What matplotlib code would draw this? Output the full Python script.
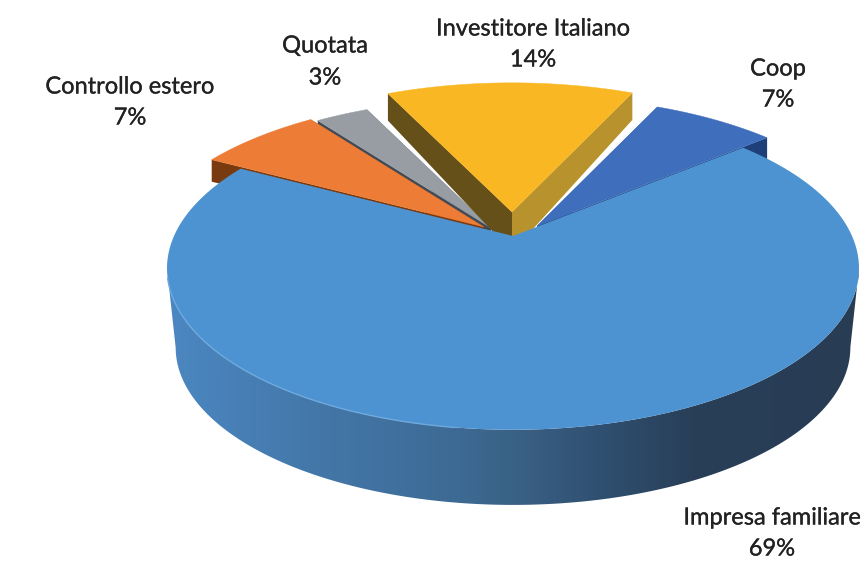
import numpy as np
import matplotlib
matplotlib.use("Agg")
import matplotlib.pyplot as plt
from matplotlib.colors import LinearSegmentedColormap
from matplotlib.patches import Polygon
import matplotlib.patheffects as pe

# Quote per tipo di proprieta, in senso antiorario a partire da Coop
names = ["Coop", "Investitore Italiano", "Quotata", "Controllo estero", "Impresa familiare"]
values = [7, 14, 3, 7, 69]

start_angle = 40
top_colors = ["#3f6fbc", "#f9b823", "#989ca3", "#ed7d36", "#4d93d1"]
side_start = ["#1f3f78", "#b8922c", "#3f4a56", "#6e3510", "#2a4560"]
side_end = ["#2c4f8c", "#66501a", "#3f4a56", "#7a3a10", "#4a86c0"]

# apice e spessore di ogni fetta staccata (al bordo esterno e all'apice)
apex = [(537, 226), (512, 212), (491, 228), (484, 227), (513, 236)]
depth = [21, 27, 20, 22, 80]
depth_apex = [21, 40, 20, 22, 80]

# posizione delle etichette: centro x, y nome, y percentuale
label_x = [778, 533, 325, 130, 772]
label_y = [69, 29, 46, 87, 518]
pct_y = [100, 60, 78, 118, 549]

RX, RY, K = 339, 155, 0.2


def project(a_deg, ox, oy, scale=1.0):
    # proiezione prospettica del disco: il fondo e piu vicino all'osservatore
    a = np.radians(a_deg)
    w = 1 + K * np.sin(a)
    return ox + scale * RX * np.cos(a) / w, oy - scale * RY * np.sin(a) / w


def edge_face(a, ox, oy, d, d_apex):
    x, y = project(a, ox, oy)
    return [(ox, oy), (x, y), (x, y + d), (ox, oy + d_apex)]


fig = plt.figure(figsize=(8.62, 5.63), dpi=100)
ax = fig.add_axes([0, 0, 1, 1])
ax.axis("off")

spans = np.array(values) * 3.6
starts = start_angle + np.concatenate([[0], np.cumsum(spans)[:-1]])

# grigia e arancione stanno dietro, poi Coop e gialla, la fetta grande copre tutto
for i in [2, 3, 0, 1]:
    a0, a1 = starts[i], starts[i] + spans[i]
    ox, oy = apex[i]
    ax.add_patch(Polygon(edge_face(a0, ox, oy, depth[i], depth_apex[i]), fc=side_start[i], ec="none"))
    ax.add_patch(Polygon(edge_face(a1, ox, oy, depth[i], depth_apex[i]), fc=side_end[i], ec="none"))
    aa = np.linspace(a0, a1, 60)
    xs, ys = project(aa, ox, oy)
    pts = [(ox, oy)] + list(zip(xs, ys))
    ax.add_patch(Polygon(pts, fc=top_colors[i], ec=top_colors[i], lw=0.3))

# fianco della fetta grande, tra i due punti estremi del disco
ox, oy = apex[4]
d = depth[4]
tang = np.degrees(np.arcsin(K))
a_side = np.linspace(180 + tang, 360 - tang, 240)
xt, yt = project(a_side, ox, oy)
xb, yb = project(a_side, ox, oy + d, scale=0.975)
side_pts = list(zip(xt, yt)) + list(zip(xb[::-1], yb[::-1]))
side_patch = Polygon(side_pts, fc="none", ec="none")
ax.add_patch(side_patch)
shade = LinearSegmentedColormap.from_list(
    "side",
    [(0.0, "#4b87c1"), (0.2, "#4478aa"), (0.42, "#3d6a94"), (0.5, "#3a6186"),
     (0.64, "#2e4e6e"), (0.76, "#293f58"), (1.0, "#283c54")],
)
grad = np.linspace(0, 1, 300).reshape(1, -1)
im = ax.imshow(grad, cmap=shade, extent=(168, 860, 510, 230), aspect="auto", zorder=1)
im.set_clip_path(side_patch)

aa = np.linspace(starts[4], starts[4] + spans[4], 400)
xs, ys = project(aa, ox, oy)
ax.add_patch(Polygon([(ox, oy)] + list(zip(xs, ys)), fc=top_colors[4], ec="none", zorder=2))

# filo chiaro sul bordo anteriore sinistro
rim = np.linspace(195, 262, 100)
xr, yr = project(rim, ox, oy)
ax.plot(xr, yr, color="#6fa9de", lw=1.0, zorder=3)

label_fx = [pe.withStroke(linewidth=0.2, foreground="#222222")]
for i in range(len(names)):
    ax.text(label_x[i], label_y[i], names[i], ha="center", va="center", fontsize=17,
            family="Lato", color="#222222", zorder=5, path_effects=label_fx)
    ax.text(label_x[i], pct_y[i], f"{values[i]}%", ha="center", va="center", fontsize=17,
            family="Lato", color="#222222", zorder=5, path_effects=label_fx)

ax.set_xlim(0, 862)
ax.set_ylim(563, 0)
fig.savefig("out.png", dpi=100)
